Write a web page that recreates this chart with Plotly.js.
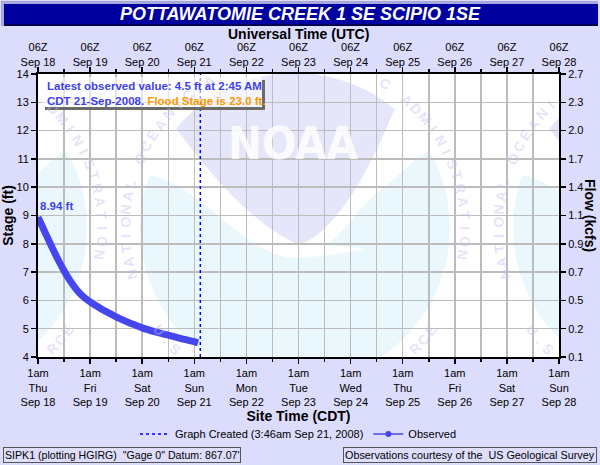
<!DOCTYPE html>
<html><head><meta charset="utf-8">
<script src="https://cdn.plot.ly/plotly-3.0.1.min.js"></script>
<style>html,body{margin:0;padding:0;background:#dcdcfc;}#chart{width:600px;height:465px;}</style>
</head><body><div id="chart"></div>
<script>
// ---------------- data ----------------
const titleText = 'POTTAWATOMIE CREEK 1 SE SCIPIO 1SE';
const days = ['2008-09-18','2008-09-19','2008-09-20','2008-09-21','2008-09-22','2008-09-23','2008-09-24','2008-09-25','2008-09-26','2008-09-27','2008-09-28'];
const weekdays = ['Thu','Fri','Sat','Sun','Mon','Tue','Wed','Thu','Fri','Sat','Sun'];
const dayLabels = ['Sep 18','Sep 19','Sep 20','Sep 21','Sep 22','Sep 23','Sep 24','Sep 25','Sep 26','Sep 27','Sep 28'];
const siteHourLabel = '1am';
const utcHourLabel = '06Z';
const stageRange = [4, 14];
const stageTicks = [4,5,6,7,8,9,10,11,12,13,14];
const flowTickLabels = ['0.1','0.2','0.5','0.7','0.9','1.1','1.4','1.7','2.0','2.3','2.7'];
const obsTimes = ['2008-09-18 01:00','2008-09-18 03:00','2008-09-18 05:00','2008-09-18 07:00','2008-09-18 09:00','2008-09-18 11:00','2008-09-18 13:00','2008-09-18 15:00','2008-09-18 17:00','2008-09-18 19:00','2008-09-18 21:00','2008-09-18 23:00',
  '2008-09-19 01:00','2008-09-19 04:00','2008-09-19 07:00','2008-09-19 10:00','2008-09-19 13:00','2008-09-19 16:00','2008-09-19 19:00','2008-09-19 22:00',
  '2008-09-20 01:00','2008-09-20 07:00','2008-09-20 13:00','2008-09-20 19:00','2008-09-21 01:00','2008-09-21 02:45'];
const obsStage = [8.94,8.61,8.28,7.95,7.63,7.33,7.05,6.79,6.56,6.36,6.19,6.06,
  5.95,5.80,5.66,5.54,5.42,5.31,5.21,5.12,
  5.03,4.89,4.77,4.65,4.54,4.50];
const createdTime = '2008-09-21 03:46';
const createdLabel = 'Graph Created (3:46am Sep 21, 2008)';
const latestValue = '4.5';
const latestTime = '2:45 AM';
const latestDate = 'CDT 21-Sep-2008.';
const floodStage = '23.0';
const leftFooter = 'SIPK1 (plotting HGIRG)\u00a0\u00a0"Gage 0" Datum: 867.07\'';
const rightFooter = 'Observations courtesy of the\u00a0\u00a0US Geological Survey';
const ringTop = 'NATIONAL OCEANIC AND ATMOSPHERIC ADMINISTRATION';
const ringBottom = 'U.S. DEPARTMENT OF COMMERCE';

// ---------------- helpers ----------------
const FONT = 'Liberation Sans, Arial, sans-serif';
const PL = 38, PT = 74, PW = 521, PH = 283;
const fx = x => (x - PL) / PW, fy = y => (PT + PH - y) / PH;
const pt = (x, y) => (x - PL).toFixed(1) + ',' + (PT - y).toFixed(1);
const t0 = days[0] + ' 01:00';
const tEnd = days[days.length - 1] + ' 01:00';
const majorTicks = days.map(d => d + ' 01:00');
const minorTicks = days.slice(0, -1).map(d => d + ' 13:00');

const shapes = [];
const annotations = [];

// ---- NOAA watermark (decorative) ----
function logo(cx, cy) {
  const R = 155;
  const P = a => [cx + R * Math.cos(a * Math.PI / 180), cy - R * Math.sin(a * Math.PI / 180)];
  const arc = (a0, a1) => { let s = ''; const n = 60; for (let i = 1; i <= n; i++) { const p = P(a0 + (a1 - a0) * i / n); s += 'L' + pt(p[0], p[1]); } return s; };
  const S = P(140), Lp = P(160), P30 = P(30);
  const lav = 'M' + pt(S[0], S[1]) + arc(140, 50) + 'C' + pt(cx + 75, cy - 60) + ' ' + pt(cx + 45, cy) + ' ' + pt(cx + 5, cy + 17) +
    'C' + pt(cx - 40, cy) + ' ' + pt(cx - 90, cy - 60) + ' ' + pt(S[0], S[1]) + 'Z';
  const cyan = 'M' + pt(Lp[0], Lp[1]) + 'C' + pt(cx - 95, cy - 43) + ' ' + pt(cx - 55, cy + 22) + ' ' + pt(cx - 5, cy + 30) +
    'C' + pt(cx + 40, cy + 27) + ' ' + pt(cx + 55, cy - 13) + ' ' + pt(cx + 82, cy - 35) +
    'C' + pt(cx + 105, cy - 53) + ' ' + pt(cx + 120, cy - 70) + ' ' + pt(P30[0], P30[1]) + arc(30, -200) + 'Z';
  const tail = 'M' + pt(cx, cy + 16) + 'C' + pt(cx + 25, cy + 18) + ' ' + pt(cx + 50, cy + 17) + ' ' + pt(cx + 70, cy + 21) +
    'C' + pt(cx + 50, cy + 25) + ' ' + pt(cx + 25, cy + 29) + ' ' + pt(cx, cy + 30) + 'Z';
  [[lav, '#e6e6fa'], [cyan, '#eaf8fd'], [tail, '#ffffff']].forEach(([p, c]) => shapes.push({
    type: 'path', xref: 'x', yref: 'y', xsizemode: 'pixel', ysizemode: 'pixel', xanchor: t0, yanchor: stageRange[1],
    path: p, fillcolor: c, line: {width: 0}, layer: 'below'
  }));
  const r = 170;
  const put = (str, a0, step, dir) => {
    for (let i = 0; i < str.length; i++) {
      const ch = str[i]; if (ch === ' ') continue;
      const a = a0 + dir * i * step, ar = a * Math.PI / 180;
      const x = cx + r * Math.cos(ar), y = cy - r * Math.sin(ar);
      if (x < 45 || x > 552 || y < 81 || y > 350) continue;
      annotations.push({xref: 'paper', yref: 'paper', x: fx(x), y: fy(y), text: ch, showarrow: false,
        textangle: dir < 0 ? 90 - a : -(a + 90), xanchor: 'center', yanchor: 'middle',
        font: {family: FONT, size: 14, weight: 'bold', color: 'rgba(190,190,240,0.42)'}});
    }
  };
  put(ringTop, 196, 205 / (ringTop.length - 1), -1);
  put(ringBottom, 217, 106 / (ringBottom.length - 1), 1);
}
logo(-68, 228); logo(295, 228); logo(668, 228);
annotations.push({xref: 'paper', yref: 'paper', x: fx(293), y: fy(143), text: 'NOAA', showarrow: false,
  xanchor: 'center', yanchor: 'middle',
  font: {family: "'Liberation Sans Narrow', 'DejaVu Sans Condensed', sans-serif", size: 45, weight: 'bold', color: 'rgba(255,255,255,0.85)'}});

// ---- title bar ----
shapes.push({type: 'rect', xref: 'paper', yref: 'paper', x0: fx(1), x1: fx(598), y0: fy(1), y1: fy(26), fillcolor: '#0000a0', line: {width: 0}, layer: 'below'});
shapes.push({type: 'line', xref: 'paper', yref: 'paper', x0: fx(1), x1: fx(598), y0: fy(2.5), y1: fy(2.5), line: {color: '#a8a8dc', width: 3}, layer: 'below'});
shapes.push({type: 'line', xref: 'paper', yref: 'paper', x0: fx(2.5), x1: fx(2.5), y0: fy(1), y1: fy(26), line: {color: '#a8a8dc', width: 3}, layer: 'below'});
shapes.push({type: 'line', xref: 'paper', yref: 'paper', x0: fx(4), x1: fx(598), y0: fy(25), y1: fy(25), line: {color: '#000050', width: 2}, layer: 'below'});

// ---- latest-value box ----
shapes.push({type: 'rect', xref: 'paper', yref: 'paper', x0: fx(42), x1: fx(262), y0: fy(77), y1: fy(107), fillcolor: 'rgba(255,255,255,0.6)', line: {width: 0}, layer: 'above'});
shapes.push({type: 'rect', xref: 'paper', yref: 'paper', x0: fx(45), x1: fx(265), y0: fy(107), y1: fy(110), fillcolor: '#6a6a6a', line: {width: 0}, layer: 'above'});
shapes.push({type: 'rect', xref: 'paper', yref: 'paper', x0: fx(262), x1: fx(265), y0: fy(80), y1: fy(110), fillcolor: '#6a6a6a', line: {width: 0}, layer: 'above'});
annotations.push({xref: 'paper', yref: 'paper', x: fx(45), y: fy(93), xanchor: 'left', yanchor: 'middle', align: 'left', showarrow: false,
  text: '<b>Latest observed value: ' + latestValue + ' ft at ' + latestTime + '<br>' + latestDate + ' <span style="color:#ff9900">Flood Stage is ' + floodStage + ' ft.</span></b>',
  font: {family: FONT, size: 11.5, color: '#4040ee'}});

// ---- first value label ----
annotations.push({x: obsTimes[0], y: obsStage[0], xref: 'x', yref: 'y', text: '<b>' + obsStage[0].toFixed(2) + ' ft</b>', showarrow: false,
  xanchor: 'left', yanchor: 'bottom', xshift: 0, yshift: 3, font: {family: FONT, size: 11.5, color: '#4040ee'}});

// ---- axis titles placed as text ----
annotations.push({xref: 'paper', yref: 'paper', x: fx(590), y: fy(215), text: '<b>Flow (kcfs)</b>', textangle: 90, showarrow: false,
  xanchor: 'center', yanchor: 'middle', font: {family: FONT, size: 14, color: '#000'}});
annotations.push({xref: 'paper', yref: 'paper', x: fx(298), y: fy(34), text: '<b>Universal Time (UTC)</b>', showarrow: false,
  xanchor: 'center', yanchor: 'middle', font: {family: FONT, size: 14, color: '#000'}});

// ---- footers ----
annotations.push({xref: 'paper', yref: 'paper', x: fx(3), y: fy(455), xanchor: 'left', yanchor: 'middle', showarrow: false, text: leftFooter,
  font: {family: FONT, size: 10.6, color: '#000'}, bordercolor: '#555', borderwidth: 1, borderpad: 1, bgcolor: '#dedefc'});
annotations.push({xref: 'paper', yref: 'paper', x: fx(597), y: fy(455), xanchor: 'right', yanchor: 'middle', showarrow: false, text: rightFooter,
  font: {family: FONT, size: 10.8, color: '#000'}, bordercolor: '#555', borderwidth: 1, borderpad: 1, bgcolor: '#dedefc'});

// ---------------- traces ----------------
const obsColor = '#4646ee';
const traces = [
  {x: [createdTime, createdTime], y: stageRange, mode: 'lines', name: createdLabel, line: {color: '#0000ff', width: 1.5, dash: 'dot'}, hoverinfo: 'skip'},
  {x: obsTimes, y: obsStage, mode: 'lines', name: 'Observed', showlegend: false, line: {color: obsColor, width: 7, shape: 'spline', smoothing: 0.5}},
  {x: [null], y: [null], mode: 'lines+markers', name: 'Observed', line: {color: obsColor, width: 1.5}, marker: {color: obsColor, size: 6}},
  {x: [t0], y: [null], xaxis: 'x2', yaxis: 'y2', mode: 'lines', showlegend: false, hoverinfo: 'skip'}
];

const axFont = {family: FONT, size: 11, color: '#000'};
const layout = {
  width: 600, height: 465,
  margin: {l: PL, r: 600 - PL - PW, t: PT, b: 465 - PT - PH, pad: 0},
  paper_bgcolor: '#dcdcfc', plot_bgcolor: '#ffffff',
  font: {family: FONT, color: '#000'},
  title: {text: '<b><i>' + titleText + '</i></b>', x: 0.5, xanchor: 'center', y: 1 - 13.5 / 465, yanchor: 'middle',
    font: {family: FONT, size: 18, color: '#ffffff'}},
  showlegend: true,
  legend: {orientation: 'h', x: 0.5, xanchor: 'center', y: fy(434), yanchor: 'middle', bgcolor: 'rgba(0,0,0,0)',
    font: {family: FONT, size: 11, color: '#000'}, itemwidth: 30, traceorder: 'normal'},
  xaxis: {type: 'date', range: [t0, tEnd], tickmode: 'array', tickvals: majorTicks,
    ticktext: days.map((d, i) => siteHourLabel + '<br>' + weekdays[i] + '<br>' + dayLabels[i]),
    showgrid: true, gridcolor: '#bcbcbc', gridwidth: 1.5, showline: true, linecolor: '#000', linewidth: 2,
    ticks: 'outside', ticklen: 5, tickwidth: 1.5, tickcolor: '#000', tickfont: axFont, zeroline: false,
    minor: {tickmode: 'array', tickvals: minorTicks, ticks: 'outside', ticklen: 3, tickwidth: 1.5, tickcolor: '#000', showgrid: true, gridcolor: '#bcbcbc', gridwidth: 1.5},
    title: {text: '<b>Site Time (CDT)</b>', font: {family: FONT, size: 14, color: '#000'}, standoff: 0}},
  xaxis2: {type: 'date', overlaying: 'x', side: 'top', range: [t0, tEnd], tickmode: 'array', tickvals: majorTicks,
    ticktext: dayLabels.map(l => utcHourLabel + '<br>' + l), showgrid: false, showline: true, linecolor: '#000', linewidth: 2,
    ticks: 'outside', ticklen: 5, tickwidth: 1.5, tickcolor: '#000', tickfont: axFont, zeroline: false, ticklabelstandoff: -3,
    minor: {tickmode: 'array', tickvals: minorTicks, ticks: 'outside', ticklen: 3, tickwidth: 1.5, tickcolor: '#000', showgrid: false}},
  yaxis: {range: stageRange, tickmode: 'array', tickvals: stageTicks, showgrid: true, gridcolor: '#bcbcbc', gridwidth: 1.5,
    showline: true, linecolor: '#000', linewidth: 2, ticks: 'outside', ticklen: 5, tickwidth: 1.5, tickcolor: '#000', tickfont: axFont, zeroline: false,
    title: {text: '<b>Stage (ft)</b>', font: {family: FONT, size: 14, color: '#000'}, standoff: 4}},
  yaxis2: {overlaying: 'y', side: 'right', range: stageRange, tickmode: 'array', tickvals: stageTicks, ticktext: flowTickLabels,
    showgrid: false, showline: true, linecolor: '#000', linewidth: 2, ticks: 'outside', ticklen: 5, tickwidth: 1.5, tickcolor: '#000', tickfont: axFont, zeroline: false},
  shapes: shapes,
  annotations: annotations
};
Plotly.newPlot('chart', traces, layout, {displayModeBar: false, staticPlot: true});
</script></body></html>
